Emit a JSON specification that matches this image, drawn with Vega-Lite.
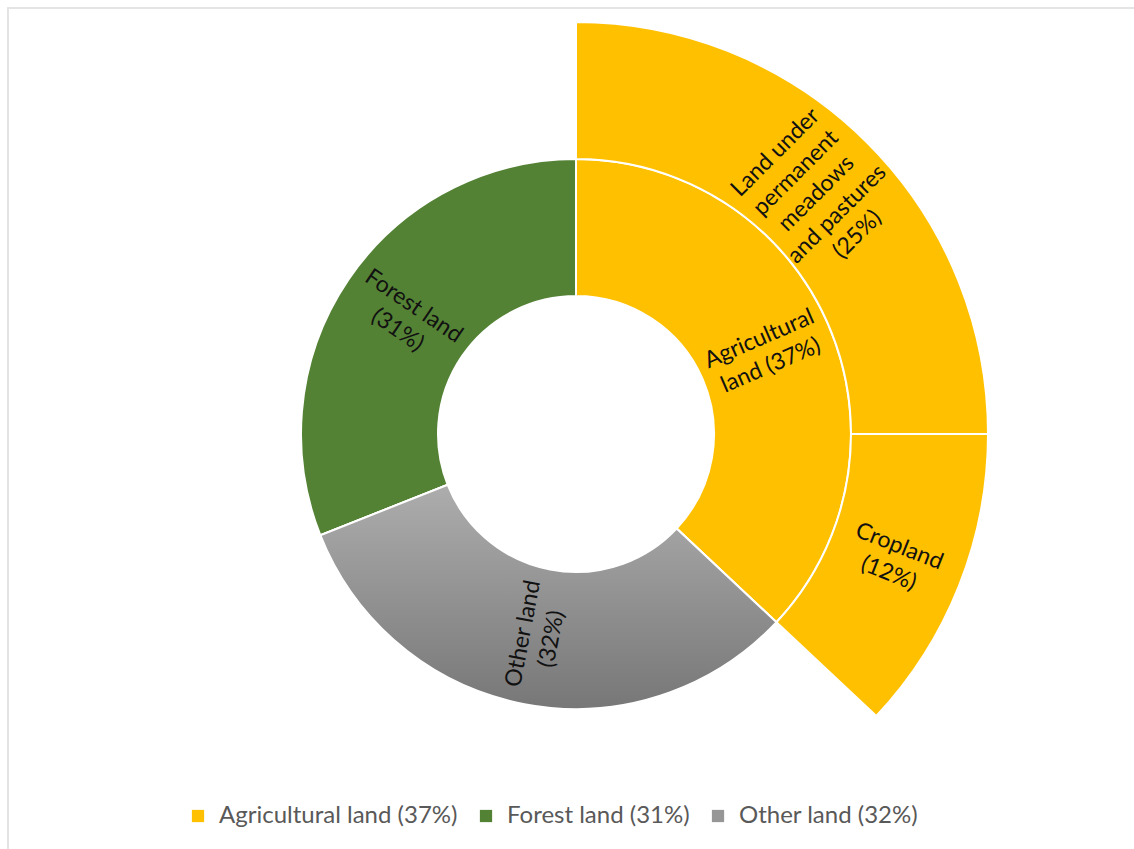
{
  "$schema": "https://vega.github.io/schema/vega-lite/v6.json",
  "width": 1136,
  "height": 852,
  "padding": {"left": 8, "top": 8, "right": 0, "bottom": 0},
  "background": "white",
  "view": {"stroke": "#e4e4e4", "strokeWidth": 2},
  "config": {
    "view": {"stroke": "#e4e4e4", "strokeWidth": 2},
    "font": "Lato"
  },
  "datasets": {
    "inner": [
      {"category": "Agricultural land (37%)", "value": 37, "label": "Agricultural\nland (37%)"},
      {"category": "Forest land (31%)", "value": 31, "label": "Forest land\n(31%)"},
      {"category": "Other land (32%)", "value": 32, "label": "Other land\n(32%)"}
    ],
    "outer": [
      {"sub": "Land under permanent meadows and pastures", "value": 25, "label": "Land under\npermanent\nmeadows\nand pastures\n(25%)"},
      {"sub": "Cropland", "value": 12, "label": "Cropland\n(12%)"}
    ]
  },
  "layer": [
    {
      "data": {"name": "inner"},
      "mark": {"type": "arc", "radius": 275, "radius2": 138, "stroke": "white", "strokeWidth": 2},
      "encoding": {
        "theta": {"field": "value", "type": "quantitative", "stack": true, "scale": {"domain": [0, 100]}},
        "order": {"field": "value", "sort": "descending"},
        "color": {
          "field": "category",
          "type": "nominal",
          "scale": {
            "domain": ["Agricultural land (37%)", "Forest land (31%)", "Other land (32%)"],
            "range": ["#FFC000", "#548235", "#969696"]
          },
          "legend": {
            "title": null,
            "orient": "none",
            "direction": "horizontal",
            "legendX": 178,
            "legendY": 796,
            "padding": 0,
            "symbolType": "square",
            "symbolSize": 150,
            "symbolStrokeWidth": 0,
            "labelFont": "Lato",
            "labelFontSize": 24,
            "labelColor": "#595959",
            "labelLimit": 0,
            "labelOffset": 9,
            "columnPadding": 16
          }
        }
      }
    },
    {
      "data": {"name": "inner"},
      "mark": {
        "type": "arc",
        "radius": 275,
        "radius2": 138,
        "stroke": "white",
        "strokeWidth": 2,
        "fill": {
          "gradient": "linear",
          "x1": 0, "y1": 0, "x2": 0, "y2": 1,
          "stops": [
            {"offset": 0, "color": "#adadad"},
            {"offset": 1, "color": "#777777"}
          ]
        }
      },
      "encoding": {
        "theta": {"field": "value", "type": "quantitative", "stack": true, "scale": {"domain": [0, 100]}},
        "order": {"field": "value", "sort": "descending"},
        "opacity": {
          "condition": {"test": "datum.category === 'Other land (32%)'", "value": 1},
          "value": 0
        }
      }
    },
    {
      "data": {"name": "outer"},
      "mark": {"type": "arc", "radius": 412, "radius2": 275, "stroke": "white", "strokeWidth": 2, "fill": "#FFC000"},
      "encoding": {
        "theta": {"field": "value", "type": "quantitative", "stack": true, "scale": {"domain": [0, 100]}},
        "order": {"field": "value", "sort": "descending"}
      }
    },
    {
      "data": {"name": "inner"},
      "transform": [
        {"window": [{"op": "sum", "field": "value", "as": "cum"}], "sort": [{"field": "value", "order": "descending"}], "frame": [null, 0]},
        {"calculate": "datum.cum - datum.value / 2", "as": "mid"},
        {"calculate": "datum.mid * 3.6 < 180 ? datum.mid * 3.6 - 90 : datum.mid * 3.6 - 270", "as": "rot"}
      ],
      "mark": {"type": "text", "radius": 206, "align": "center", "baseline": "middle", "fontSize": 23, "lineHeight": 29, "lineBreak": "\n", "dy": -14.5, "color": "#111111", "font": "Lato"},
      "encoding": {
        "theta": {"field": "mid", "type": "quantitative", "stack": null, "scale": {"domain": [0, 100]}},
        "angle": {"field": "rot", "type": "quantitative", "scale": null},
        "text": {"field": "label"}
      }
    },
    {
      "data": {"name": "outer"},
      "transform": [
        {"window": [{"op": "sum", "field": "value", "as": "cum"}], "sort": [{"field": "value", "order": "descending"}], "frame": [null, 0]},
        {"calculate": "datum.cum - datum.value / 2", "as": "mid"},
        {"calculate": "datum.mid * 3.6 < 180 ? datum.mid * 3.6 - 90 : datum.mid * 3.6 - 270", "as": "rot"},
        {"filter": "datum.sub === 'Cropland'"}
      ],
      "mark": {"type": "text", "radius": 342, "align": "center", "baseline": "middle", "fontSize": 23, "lineHeight": 29, "lineBreak": "\n", "dy": -14.5, "color": "#111111", "font": "Lato"},
      "encoding": {
        "theta": {"field": "mid", "type": "quantitative", "stack": null, "scale": {"domain": [0, 100]}},
        "angle": {"field": "rot", "type": "quantitative", "scale": null},
        "text": {"field": "label"}
      }
    },
    {
      "data": {"name": "outer"},
      "transform": [
        {"window": [{"op": "sum", "field": "value", "as": "cum"}], "sort": [{"field": "value", "order": "descending"}], "frame": [null, 0]},
        {"calculate": "datum.cum - datum.value / 2", "as": "mid"},
        {"calculate": "datum.mid * 3.6 < 180 ? datum.mid * 3.6 - 90 : datum.mid * 3.6 - 270", "as": "rot"},
        {"filter": "datum.sub !== 'Cropland'"}
      ],
      "mark": {"type": "text", "radius": 340, "align": "center", "baseline": "middle", "fontSize": 23, "lineHeight": 29, "lineBreak": "\n", "dy": -58, "color": "#111111", "font": "Lato"},
      "encoding": {
        "theta": {"field": "mid", "type": "quantitative", "stack": null, "scale": {"domain": [0, 100]}},
        "angle": {"field": "rot", "type": "quantitative", "scale": null},
        "text": {"field": "label"}
      }
    }
  ]
}
